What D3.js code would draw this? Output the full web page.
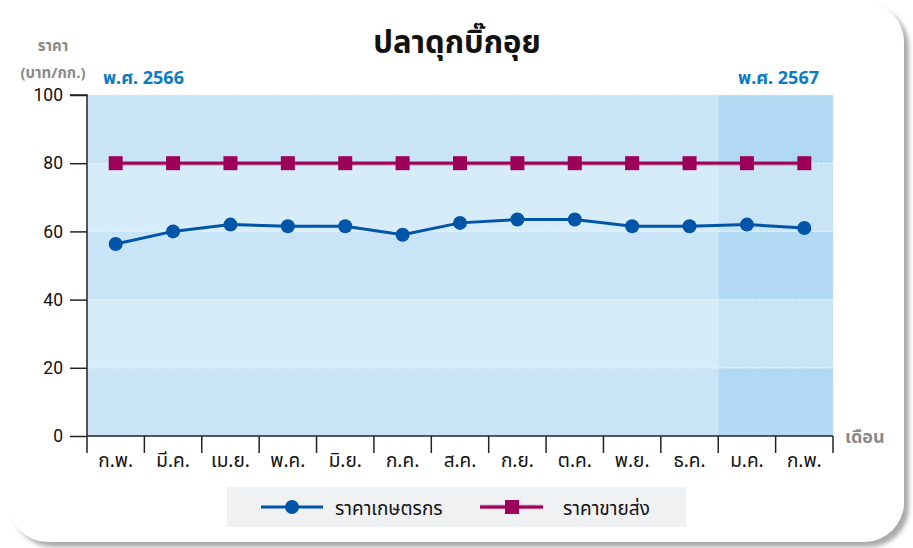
<!DOCTYPE html>
<html><head><meta charset="utf-8">
<script src="https://cdn.jsdelivr.net/npm/d3@7"></script>
<style>
html,body{margin:0;padding:0;background:#fff;}
svg{display:block;font-family:"Noto Sans","Noto Sans Thai",Tahoma,sans-serif;}
</style></head>
<body>
<svg id="chart" width="913" height="548"></svg>
<script>
const months = ["ก.พ.","มี.ค.","เม.ย.","พ.ค.","มิ.ย.","ก.ค.","ส.ค.","ก.ย.","ต.ค.","พ.ย.","ธ.ค.","ม.ค.","ก.พ."];
const farmPrice = [56.3, 60, 62, 61.5, 61.5, 59, 62.5, 63.5, 63.5, 61.5, 61.5, 62, 61];
const wholesalePrice = [80, 80, 80, 80, 80, 80, 80, 80, 80, 80, 80, 80, 80];
const yTicks = [0, 20, 40, 60, 80, 100];
const seriesNames = ["ราคาเกษตรกร", "ราคาขายส่ง"];
const yearLabels = ["พ.ศ. 2566", "พ.ศ. 2567"];
const title = "ปลาดุกบิ๊กอุย";

const svg = d3.select("#chart");
const W = 913, H = 548;
const m = {left: 87, right: 80, top: 95, bottom: 112};
const iw = W - m.left - m.right, ih = H - m.top - m.bottom;

// card
const defs = svg.append("defs");
const f = defs.append("filter").attr("id","sh").attr("x","-5%").attr("y","-5%").attr("width","115%").attr("height","115%");
f.append("feDropShadow").attr("dx",5).attr("dy",5).attr("stdDeviation",2).attr("flood-color","#888").attr("flood-opacity",0.7);
svg.append("rect").attr("x",8).attr("y",2).attr("width",896).attr("height",540).attr("rx",40)
  .attr("fill","#fff").attr("filter","url(#sh)");

const x = d3.scaleBand().domain(d3.range(months.length)).range([m.left, m.left+iw]).padding(0);
const y = d3.scaleLinear().domain([0,100]).range([m.top+ih, m.top]);
const g = svg.append("g");

// bands
const nPrev = 11;
for (let i = 0; i < yTicks.length-1; i++) {
  const dark = i % 2 === 0;
  g.append("rect").attr("x", m.left).attr("width", x(nPrev) - m.left)
    .attr("y", y(yTicks[i+1])).attr("height", y(yTicks[i]) - y(yTicks[i+1]))
    .attr("fill", dark ? "#c9e4f6" : "#d7ecf9");
  g.append("rect").attr("x", x(nPrev)).attr("width", m.left + iw - x(nPrev))
    .attr("y", y(yTicks[i+1])).attr("height", y(yTicks[i]) - y(yTicks[i+1]))
    .attr("fill", dark ? "#b2d9f3" : "#c8e4f6");
}
// grid
yTicks.slice(1).forEach(t => {
  g.append("line").attr("x1", m.left).attr("x2", m.left+iw).attr("y1", y(t)).attr("y2", y(t))
    .attr("stroke","#e6eef3").attr("stroke-width",1.2).attr("stroke-dasharray","3,2");
});

// y axis
const yAxis = svg.append("g").attr("transform",`translate(${m.left},0)`)
  .call(d3.axisLeft(y).tickValues(yTicks).tickSize(17).tickPadding(7));
yAxis.select(".domain").attr("stroke","#222").attr("stroke-width",1.5).attr("d",`M-17,${y(100)}H0V${y(0)}`);
yAxis.selectAll(".tick line").attr("stroke","#222").attr("stroke-width",1.5);
yAxis.selectAll(".tick text").attr("font-size",17.5).attr("fill","#111").attr("font-family","Roboto, 'Noto Sans', sans-serif");

// x axis
const xAxisG = svg.append("g").attr("transform",`translate(0,${y(0)})`);
xAxisG.append("line").attr("x1",m.left).attr("x2",m.left+iw).attr("stroke","#222").attr("stroke-width",1.5);
d3.range(months.length+1).forEach(i => {
  const xx = i < months.length ? x(i) : m.left+iw;
  xAxisG.append("line").attr("x1",xx).attr("x2",xx).attr("y1",0).attr("y2",17).attr("stroke","#222").attr("stroke-width",1.5);
});
months.forEach((mn,i) => {
  xAxisG.append("text").attr("x", x(i)+x.bandwidth()/2).attr("y", 31).attr("text-anchor","middle")
    .attr("font-size",19).attr("fill","#111").text(mn);
});

const cx = i => x(i) + x.bandwidth()/2;
// wholesale line
const line = d3.line().x((d,i)=>cx(i)).y(d=>y(d));
svg.append("path").datum(wholesalePrice).attr("d",line).attr("fill","none").attr("stroke","#c77aa6").attr("stroke-width",4.5);
svg.append("path").datum(wholesalePrice).attr("d",line).attr("fill","none").attr("stroke","#9c0059").attr("stroke-width",2.5);
svg.selectAll(".sq").data(wholesalePrice).enter().append("rect")
  .attr("x",(d,i)=>cx(i)-7).attr("y",d=>y(d)-7).attr("width",14).attr("height",14).attr("fill","#9c0059");
// farm line
svg.append("path").datum(farmPrice).attr("d",line).attr("fill","none").attr("stroke","#0055a8").attr("stroke-width",3);
svg.selectAll(".dot").data(farmPrice).enter().append("circle")
  .attr("cx",(d,i)=>cx(i)).attr("cy",d=>y(d)).attr("r",7).attr("fill","#0055a8");

// texts
svg.append("text").attr("x",457).attr("y",53).attr("text-anchor","middle").attr("font-size",31).attr("font-weight","bold").attr("fill","#111").text(title);
svg.append("text").attr("x",53).attr("y",51).attr("text-anchor","middle").attr("font-size",15).attr("font-weight","bold").attr("fill","#8a8a8a").text("ราคา");
svg.append("text").attr("x",53).attr("y",78).attr("text-anchor","middle").attr("font-size",15).attr("font-weight","bold").attr("fill","#8a8a8a").text("(บาท/กก.)");
svg.append("text").attr("x",103).attr("y",84).attr("font-size",18).attr("font-weight","bold").attr("fill","#0a7cc4").text(yearLabels[0]);
svg.append("text").attr("x",819).attr("y",84).attr("text-anchor","end").attr("font-size",18).attr("font-weight","bold").attr("fill","#0a7cc4").text(yearLabels[1]);
svg.append("text").attr("x",845).attr("y",443).attr("font-size",18).attr("font-weight","bold").attr("fill","#8a8a8a").text("เดือน");

// legend
const lg = svg.append("g");
lg.append("rect").attr("x",227).attr("y",487).attr("width",459).attr("height",40).attr("fill","#f0f1f3");
lg.append("line").attr("x1",261).attr("x2",323).attr("y1",507).attr("y2",507).attr("stroke","#0055a8").attr("stroke-width",3);
lg.append("circle").attr("cx",292).attr("cy",507).attr("r",7).attr("fill","#0055a8");
lg.append("text").attr("x",335).attr("y",515).attr("font-size",19).attr("fill","#111").text(seriesNames[0]);
lg.append("line").attr("x1",480).attr("x2",543).attr("y1",507).attr("y2",507).attr("stroke","#c77aa6").attr("stroke-width",4.5);
lg.append("line").attr("x1",480).attr("x2",543).attr("y1",507).attr("y2",507).attr("stroke","#9c0059").attr("stroke-width",2.5);
lg.append("rect").attr("x",505).attr("y",500).attr("width",14).attr("height",14).attr("fill","#9c0059");
lg.append("text").attr("x",563).attr("y",515).attr("font-size",19).attr("fill","#111").text(seriesNames[1]);
</script>
</body></html>
